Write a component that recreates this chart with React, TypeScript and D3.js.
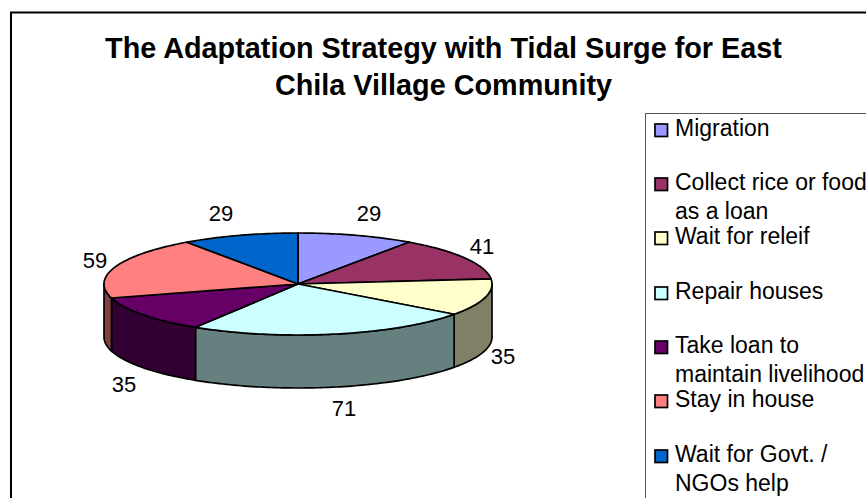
import React from "react";
import * as d3 from "d3";

const categories = ["Migration", "Collect rice or food as a loan", "Wait for releif", "Repair houses", "Take loan to maintain livelihood", "Stay in house", "Wait for Govt. / NGOs help"];
const values = [29, 41, 35, 71, 35, 59, 29];
const topColors = ["#9999FF", "#993366", "#FFFFCC", "#CCFFFF", "#660066", "#FF8080", "#0066CC"];
const titleLines = ["The Adaptation Strategy with Tidal Surge for East", "Chila Village Community"];
const legendLines = [["Migration"], ["Collect rice or food", "as a loan"], ["Wait for releif"], ["Repair houses"], ["Take loan to", "maintain livelihood"], ["Stay in house"], ["Wait for Govt. /", "NGOs help"]];
const legendBaselines = [136, 190, 244, 299, 353, 407, 462];
const labelPos: [number, number][] = [[369, 213], [482, 246], [503, 356], [344, 408], [124, 384], [95, 260], [221, 213]];

const cx = 298, cy = 284, rx = 194, ry = 51, depth = 53;
const FONT = "'Liberation Sans', Arial, sans-serif";

const px = (a: number) => cx + rx * Math.sin(a);
const py = (a: number) => cy - ry * Math.cos(a);

function topPath(a0: number, a1: number) {
  const pts: string[] = [`M${cx},${cy}`];
  const n = Math.max(2, Math.ceil((a1 - a0) / 0.02));
  for (let i = 0; i <= n; i++) {
    const a = a0 + ((a1 - a0) * i) / n;
    pts.push(`L${px(a)},${py(a)}`);
  }
  return pts.join("") + "Z";
}

function wallPath(a0: number, a1: number) {
  const s = Math.max(a0, Math.PI / 2), e = Math.min(a1, (3 * Math.PI) / 2);
  if (e <= s) return null;
  const n = Math.max(2, Math.ceil((e - s) / 0.02));
  const up: string[] = [], down: string[] = [];
  for (let i = 0; i <= n; i++) {
    const a = s + ((e - s) * i) / n;
    up.push(`${px(a)},${py(a)}`);
    down.unshift(`${px(a)},${py(a) + depth}`);
  }
  return `M${up.join("L")}L${down.join("L")}Z`;
}

export default function App() {
  const arcs = d3.pie<number>().sort(null).startAngle(0).endAngle(2 * Math.PI)(values);
  const darken = (c: string) => {
    const r = d3.rgb(c);
    return d3.rgb(r.r / 2, r.g / 2, r.b / 2).formatHex();
  };
  return (
    <svg width={866} height={498} style={{ position: "fixed", left: 0, top: 0, background: "#fff" }} fontFamily={FONT}>
      <rect x={11} y={12.5} width={900} height={600} fill="#fff" stroke="#000" strokeWidth={2} />
      {titleLines.map((t, i) => (
        <text key={t} x={443.5} y={58 + i * 37} textAnchor="middle" fontWeight="bold" fontSize={28.8} fill="#000">{t}</text>
      ))}
      {arcs.map((d, i) => {
        const w = wallPath(d.startAngle, d.endAngle);
        return w ? <path key={i} d={w} fill={darken(topColors[i])} stroke="#000" strokeWidth={1.7} strokeLinejoin="round" /> : null;
      })}
      {arcs.map((d, i) => (
        <path key={i} d={topPath(d.startAngle, d.endAngle)} fill={topColors[i]} stroke="#000" strokeWidth={1.7} strokeLinejoin="round" />
      ))}
      {values.map((v, i) => (
        <text key={i} x={labelPos[i][0]} y={labelPos[i][1] + 8} textAnchor="middle" fontSize={22} fill="#000">{v}</text>
      ))}
      <rect x={645.5} y={113.5} width={300} height={420} fill="#fff" stroke="#555" strokeWidth={1} />
      {categories.map((c, i) => (
        <g key={c}>
          <rect x={655} y={legendBaselines[i] - 12} width={12.5} height={12.5} fill={topColors[i]} stroke="#000" strokeWidth={1.7} />
          {legendLines[i].map((l, j) => (
            <text key={l} x={675} y={legendBaselines[i] + j * 29} fontSize={23} fill="#000">{l}</text>
          ))}
        </g>
      ))}
    </svg>
  );
}
